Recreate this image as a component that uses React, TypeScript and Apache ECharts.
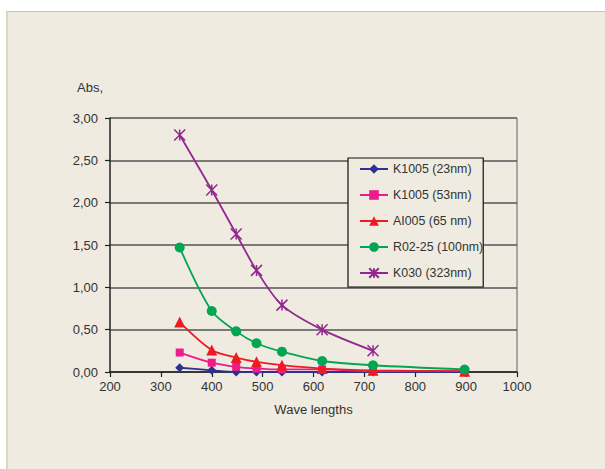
import React, { useEffect, useRef } from "react";
import * as echarts from "echarts";

const wavelengths = [337, 400, 448, 488, 538, 617, 717, 897];
const k1005_23 = [0.05, 0.02, 0.0, 0.0, 0.0, 0.0, 0.0, 0.0];
const k1005_53 = [0.23, 0.11, 0.06, 0.04, 0.03, 0.03, 0.01, 0.01];
const al005_65 = [0.59, 0.26, 0.17, 0.12, 0.08, 0.04, 0.02, 0.01];
const r0225_100 = [1.47, 0.72, 0.48, 0.34, 0.24, 0.13, 0.08, 0.03];
const k030_323 = [2.8, 2.15, 1.63, 1.2, 0.79, 0.5, 0.25];

const seriesNames = [
  "K1005 (23nm)",
  "K1005 (53nm)",
  "AI005 (65 nm)",
  "R02-25 (100nm)",
  "K030 (323nm)",
];
const yTicks = ["0,00", "0,50", "1,00", "1,50", "2,00", "2,50", "3,00"];
const xTicks = ["200", "300", "400", "500", "600", "700", "800", "900", "1000"];

const FONT = "'Liberation Sans', Arial, sans-serif";
const asterisk = "path://M0,0 L10,10 M10,0 L0,10 M5,0 L5,10";

export default function App() {
  const ref = useRef<HTMLDivElement>(null);
  useEffect(() => {
    if (!ref.current) return;
    const chart = echarts.init(ref.current, null, { renderer: "svg" });
    const pair = (arr: number[]) => arr.map((v, i) => [wavelengths[i], v]);
    const colors = ["#2e3192", "#ec1c8c", "#ed1c24", "#00a651", "#92278f"];
    const symbols = ["diamond", "rect", "triangle", "circle", asterisk];
    const sizes = [9, 8, 11, 10, 11];
    const datas = [k1005_23, k1005_53, al005_65, r0225_100, k030_323];
    chart.setOption({
      animation: false,
      backgroundColor: "transparent",
      textStyle: { fontFamily: FONT },
      grid: { left: 110, right: 88, top: 118, bottom: 97 },
      xAxis: {
        type: "value",
        min: 200,
        max: 1000,
        interval: 100,
        name: "Wave lengths",
        nameLocation: "middle",
        nameGap: 31,
        nameTextStyle: { color: "#333", fontSize: 13, fontFamily: FONT },
        axisLine: { show: true, lineStyle: { color: "#222", width: 1.5 } },
        axisTick: { show: true, inside: false, length: 5, lineStyle: { color: "#222", width: 1.2 } },
        axisLabel: {
          color: "#333",
          fontSize: 13,
          margin: 8,
          fontFamily: FONT,
          formatter: (v: number) => xTicks[Math.round((v - 200) / 100)],
        },
        splitLine: { show: false },
      },
      yAxis: {
        type: "value",
        min: 0,
        max: 3,
        interval: 0.5,
        axisLine: { show: true, onZero: false, lineStyle: { color: "#222", width: 1.5 } },
        axisTick: { show: true, length: 5, lineStyle: { color: "#222", width: 1.2 } },
        axisLabel: {
          color: "#333",
          fontSize: 13,
          margin: 12,
          fontFamily: FONT,
          formatter: (v: number) => yTicks[Math.round(v / 0.5)],
        },
        splitLine: { show: true, lineStyle: { color: "#555", width: 1.5 } },
      },
      graphic: [
        {
          type: "text",
          left: 77,
          top: 81,
          style: { text: "Abs,", fill: "#333", font: `13px ${FONT}` },
        },
        {
          type: "line",
          shape: { x1: 517, y1: 118, x2: 517, y2: 372 },
          style: { stroke: "#777", lineWidth: 1.2 },
        },
      ],
      legend: {
        orient: "vertical",
        left: 348,
        top: 158,
        data: seriesNames,
        backgroundColor: "#efebe1",
        borderColor: "#111",
        borderWidth: 1.2,
        borderRadius: 0,
        padding: [5, 0, 8, 11],
        itemWidth: 28,
        itemHeight: 12,
        itemGap: 14,
        textStyle: { color: "#333", fontSize: 12.4, fontFamily: FONT },
      },
      series: datas.map((d, i) => ({
        name: seriesNames[i],
        type: "line",
        data: pair(d),
        smooth: 0.3,
        symbol: symbols[i],
        symbolSize: sizes[i],
        showSymbol: true,
        lineStyle: { color: colors[i], width: 1.8 },
        itemStyle:
          i === 4
            ? { color: "transparent", borderColor: colors[i], borderWidth: 1.5 }
            : { color: colors[i], borderWidth: 0 },
        z: 2 + i,
      })),
    });
    return () => chart.dispose();
  }, []);
  return (
    <div style={{ position: "fixed", left: 0, top: 0, width: 605, height: 469, background: "#fff" }}>
      <div
        style={{
          position: "absolute",
          left: 6,
          top: 11,
          right: 0,
          bottom: 0,
          background: "#efebe1",
          borderTop: "1px solid #cbc2aa",
          borderLeft: "2px solid #ddd5bd",
        }}
      />
      <div ref={ref} style={{ position: "absolute", left: 0, top: 0, width: 605, height: 469 }} />
    </div>
  );
}
